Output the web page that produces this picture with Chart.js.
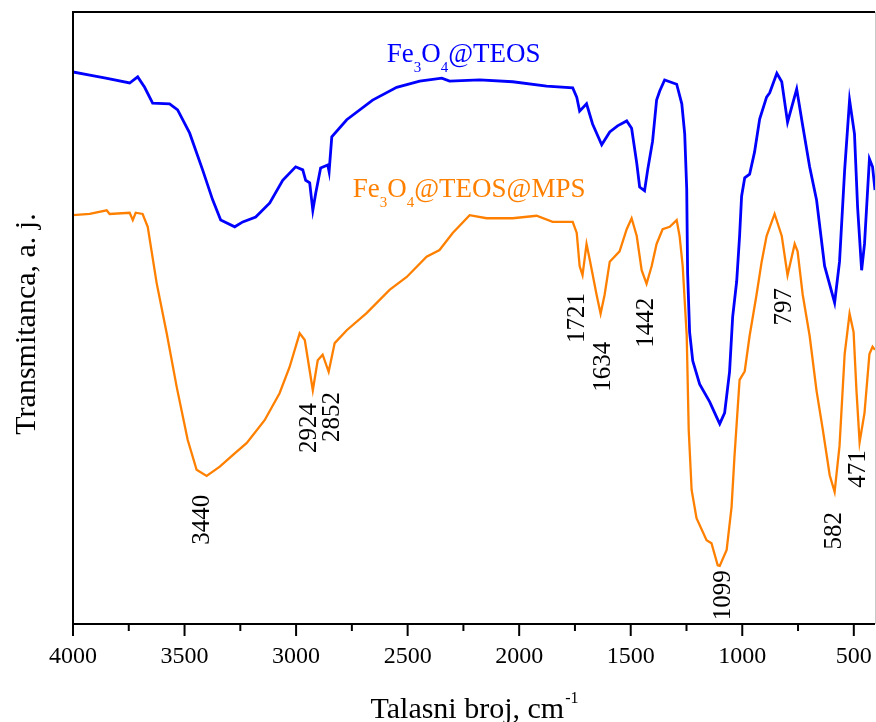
<!DOCTYPE html>
<html>
<head>
<meta charset="utf-8">
<script src="https://cdn.jsdelivr.net/npm/chart.js@4.4.1/dist/chart.umd.min.js"></script>
<style>
  html, body { margin: 0; padding: 0; background: #fff; }
  #wrap { width: 876px; height: 722px; }
</style>
</head>
<body>
<div id="wrap"><canvas id="ftir" width="876" height="722"></canvas></div>
<script>
// Fe3O4@TEOS spectrum (wavenumber, transmittance a.u.)
const blueWavenumber = [4000, 3925, 3853, 3746, 3710, 3679, 3643, 3567, 3531, 3477, 3419, 3374, 3338, 3275, 3239, 3181, 3118, 3060, 3002, 2970, 2957, 2939, 2925, 2912, 2890, 2858, 2852, 2840, 2773, 2657, 2549, 2446, 2347, 2312, 2177, 2029, 1877, 1760, 1742, 1729, 1698, 1671, 1630, 1594, 1559, 1518, 1496, 1473, 1460, 1438, 1424, 1402, 1384, 1370, 1348, 1294, 1271, 1258, 1249, 1245, 1236, 1222, 1191, 1146, 1115, 1101, 1079, 1057, 1043, 1025, 1012, 1003, 989, 967, 945, 922, 891, 877, 845, 823, 797, 756, 729, 698, 667, 631, 586, 564, 541, 519, 497, 483, 465, 452, 430, 416, 405]
const blueTransmit = [90.2, 89.7, 89.2, 88.4, 89.4, 87.7, 85.1, 85.0, 84.0, 80.2, 74.2, 69.3, 66.0, 64.9, 65.7, 66.5, 68.8, 72.5, 74.7, 74.2, 72.5, 72.1, 67.6, 70.4, 74.5, 75.0, 73.9, 79.6, 82.4, 85.6, 87.7, 88.7, 89.2, 88.7, 88.9, 88.6, 87.9, 87.6, 86.1, 83.8, 85.0, 81.7, 78.3, 80.4, 81.4, 82.2, 81.0, 75.3, 71.4, 70.8, 74.2, 78.9, 85.6, 87.1, 88.9, 88.2, 85.0, 80.1, 71.1, 57.4, 47.7, 43.0, 39.2, 36.3, 33.8, 32.7, 34.5, 41.2, 50.2, 56.0, 63.4, 69.9, 72.9, 73.5, 77.1, 82.5, 86.1, 86.8, 90.0, 88.6, 82.0, 87.4, 81.4, 74.7, 69.3, 58.5, 52.5, 59.2, 74.2, 85.6, 80.1, 68.1, 57.8, 62.1, 76.0, 74.7, 70.9]

// Fe3O4@TEOS@MPS spectrum
const orangeWavenumber = [4000, 3925, 3849, 3836, 3746, 3732, 3719, 3688, 3665, 3625, 3580, 3535, 3486, 3446, 3401, 3342, 3284, 3221, 3141, 3074, 3029, 2984, 2961, 2925, 2903, 2881, 2854, 2827, 2773, 2684, 2581, 2504, 2415, 2357, 2298, 2222, 2146, 2029, 1922, 1850, 1760, 1742, 1729, 1716, 1698, 1684, 1653, 1635, 1617, 1594, 1550, 1518, 1496, 1473, 1451, 1429, 1406, 1384, 1357, 1325, 1294, 1281, 1267, 1249, 1240, 1227, 1205, 1160, 1138, 1110, 1101, 1070, 1048, 1035, 1012, 989, 967, 936, 913, 891, 868, 855, 823, 797, 765, 752, 729, 698, 667, 640, 608, 586, 564, 541, 519, 501, 488, 474, 452, 430, 416, 405]
const orangeTransmit = [66.8, 67.0, 67.6, 67.0, 67.2, 66.0, 67.2, 67.0, 64.9, 55.7, 47.5, 38.7, 30.1, 25.2, 24.2, 25.7, 27.6, 29.6, 33.3, 37.7, 42.0, 47.5, 46.4, 38.2, 43.1, 44.0, 41.2, 45.9, 48.0, 50.8, 54.6, 56.7, 60.0, 61.1, 63.9, 66.8, 66.3, 66.3, 66.7, 65.7, 65.7, 63.9, 58.5, 57.0, 62.1, 59.6, 53.8, 50.7, 53.8, 59.2, 60.9, 64.5, 66.3, 63.4, 57.8, 55.6, 58.5, 62.1, 64.5, 64.9, 66.0, 63.4, 58.5, 47.1, 31.7, 21.9, 17.3, 13.7, 13.2, 9.6, 9.5, 12.1, 19.1, 27.3, 39.9, 41.3, 47.1, 53.8, 59.2, 63.4, 65.7, 67.0, 63.4, 57.0, 62.1, 60.9, 53.8, 47.1, 38.1, 32.0, 24.3, 21.6, 29.1, 44.1, 50.7, 47.7, 38.1, 29.7, 34.5, 44.1, 45.3, 44.8]

const xTickValues = [4000, 3500, 3000, 2500, 2000, 1500, 1000, 500]

// band labels, placed at (wavenumber, level of text end)
const peakLabels = ['3440', '2924', '2852', '1721', '1634', '1442', '1099', '797', '582', '471']
const peakLabelAt = [3419, 2939, 2836, 1738, 1621, 1429, 1084, 810, 586, 479]
const peakLabelTop = [21.1, 36.1, 37.9, 54.1, 46.1, 53.3, 8.8, 54.9, 18.3, 28.4]

const seriesNames = ['Fe3O4@TEOS', 'Fe3O4@TEOS@MPS']
const seriesColors = ['#0000ff', '#ff8000']
const seriesLabelAt = [2594, 2746]
const seriesLabelLevel = [91.8, 69.8]

const SERIF = '"Liberation Serif", "Times New Roman", serif'

function toPoints(xs, ys) {
  return xs.map((w, i) => ({ x: w, y: ys[i] }))
}

// chemical formula with subscripted digits
function drawFormula(ctx, text, x, y, color) {
  ctx.fillStyle = color
  ctx.textAlign = 'left'
  ctx.textBaseline = 'alphabetic'
  let cx = x
  text.split(/(\d+)/).forEach((part, i) => {
    if (!part) return
    const sub = i % 2 === 1
    ctx.font = (sub ? '15px ' : '27px ') + SERIF
    ctx.fillText(part, cx, sub ? y + 10 : y)
    cx += ctx.measureText(part).width
  })
}

const decor = {
  id: 'decor',
  afterDraw(chart) {
    const { ctx, chartArea: a } = chart
    const xs = chart.scales.x, ys = chart.scales.y
    ctx.save()

    // frame
    ctx.strokeStyle = '#000'
    ctx.lineWidth = 2
    ctx.beginPath()
    ctx.moveTo(a.right, a.top)
    ctx.lineTo(a.left, a.top)
    ctx.lineTo(a.left, a.bottom)
    ctx.lineTo(a.right, a.bottom)
    ctx.stroke()
    ctx.strokeStyle = '#c8c8c8'
    ctx.lineWidth = 1
    ctx.beginPath()
    ctx.moveTo(a.right + 0.5, a.top)
    ctx.lineTo(a.right + 0.5, a.bottom)
    ctx.stroke()

    // major + minor ticks
    ctx.strokeStyle = '#000'
    ctx.lineWidth = 2
    xTickValues.forEach((v, i) => {
      const px = xs.getPixelForValue(v)
      ctx.beginPath()
      ctx.moveTo(px, a.bottom)
      ctx.lineTo(px, a.bottom + 12)
      ctx.stroke()
      if (i < xTickValues.length - 1) {
        const mx = xs.getPixelForValue((v + xTickValues[i + 1]) / 2)
        ctx.beginPath()
        ctx.moveTo(mx, a.bottom)
        ctx.lineTo(mx, a.bottom + 7)
        ctx.stroke()
      }
    })

    // y title
    ctx.fillStyle = '#000'
    ctx.font = '30px ' + SERIF
    ctx.save()
    ctx.translate(35, (a.top + a.bottom) / 2 + 6)
    ctx.rotate(-Math.PI / 2)
    ctx.textAlign = 'center'
    ctx.textBaseline = 'alphabetic'
    ctx.fillText('Transmitanca, a. j.', 0, 0)
    ctx.restore()

    // x title with superscript
    const main = 'Talasni broj, cm'
    const sup = '-1'
    ctx.font = '30px ' + SERIF
    const wMain = ctx.measureText(main).width
    ctx.font = '16px ' + SERIF
    const wSup = ctx.measureText(sup).width
    const startX = (a.left + a.right) / 2 - (wMain + wSup) / 2
    ctx.textAlign = 'left'
    ctx.textBaseline = 'alphabetic'
    ctx.font = '30px ' + SERIF
    ctx.fillText(main, startX, 718)
    ctx.font = '16px ' + SERIF
    ctx.fillText(sup, startX + wMain + 1, 703)

    // series names
    seriesNames.forEach((name, i) => {
      drawFormula(ctx, name, xs.getPixelForValue(seriesLabelAt[i]),
        ys.getPixelForValue(seriesLabelLevel[i]), seriesColors[i])
    })

    // band labels
    ctx.fillStyle = '#000'
    ctx.font = '25px ' + SERIF
    peakLabels.forEach((txt, i) => {
      ctx.save()
      ctx.translate(xs.getPixelForValue(peakLabelAt[i]), ys.getPixelForValue(peakLabelTop[i]))
      ctx.rotate(-Math.PI / 2)
      ctx.textAlign = 'right'
      ctx.textBaseline = 'middle'
      ctx.fillText(txt, 0, 0)
      ctx.restore()
    })

    ctx.restore()
  }
}

const ctx = document.getElementById('ftir').getContext('2d')

new Chart(ctx, {
  type: 'line',
  data: {
    datasets: [{
      label: seriesNames[0],
      data: toPoints(blueWavenumber, blueTransmit),
      borderColor: seriesColors[0],
      borderWidth: 2.8,
      pointRadius: 0,
      tension: 0,
      fill: false
    }, {
      label: seriesNames[1],
      data: toPoints(orangeWavenumber, orangeTransmit),
      borderColor: seriesColors[1],
      borderWidth: 2.3,
      pointRadius: 0,
      tension: 0,
      fill: false
    }]
  },
  options: {
    responsive: false,
    animation: false,
    devicePixelRatio: 1,
    layout: {
      padding: { top: 12, right: 1, left: 0, bottom: 0 }
    },
    plugins: {
      legend: { display: false },
      tooltip: { enabled: false }
    },
    scales: {
      x: {
        type: 'linear',
        reverse: true,
        min: 405,
        max: 4000,
        afterBuildTicks: scale => {
          scale.ticks = xTickValues.map(v => ({ value: v }))
        },
        afterFit: scale => {
          scale.height = 98
          scale.paddingLeft = 0
          scale.paddingRight = 0
        },
        grid: { display: false, drawTicks: false },
        border: { display: false },
        ticks: {
          color: '#000',
          font: { family: SERIF, size: 24 },
          padding: 18,
          maxRotation: 0,
          autoSkip: false,
          callback: v => String(v)
        }
      },
      y: {
        min: 0,
        max: 100,
        afterFit: scale => { scale.width = 73 },
        ticks: { display: false },
        grid: { display: false },
        border: { display: false }
      }
    }
  },
  plugins: [decor]
})
</script>
</body>
</html>
